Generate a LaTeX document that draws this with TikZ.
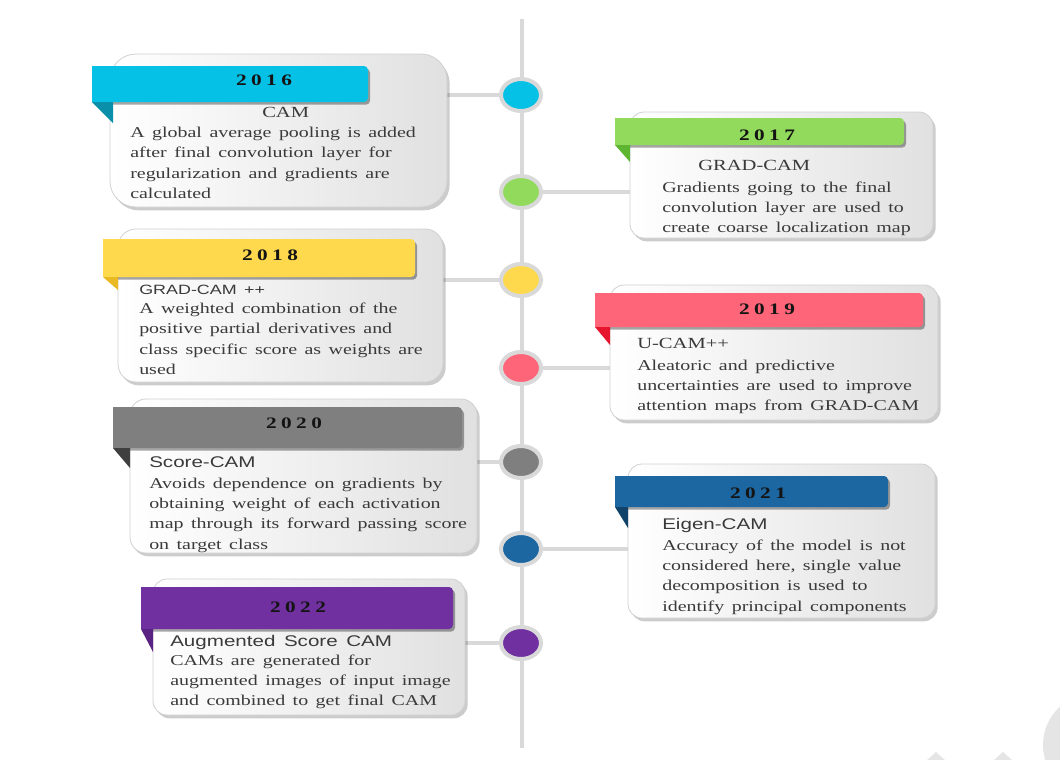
\documentclass[tikz,border=0pt]{standalone}
\usepackage{fontspec}
\setmainfont{Liberation Serif}[FakeStretch=1.33, WordSpace=1.5]
\newfontfamily\sanstitle{Liberation Sans}[FakeStretch=1.33, WordSpace=1.5]
\newfontfamily\yearfont{Liberation Serif}[FakeStretch=1.33, LetterSpace=28]
\usetikzlibrary{shadows,fit,shapes.geometric}
\pgfdeclarelayer{bg}
\pgfsetlayers{bg,main}
\definecolor{ringgray}{HTML}{D9D9D9}
\definecolor{txt}{HTML}{3A3A3A}
\definecolor{cA}{HTML}{05C1E6}\definecolor{fA}{HTML}{0A8FAA}
\definecolor{cB}{HTML}{92DA5C}\definecolor{fB}{HTML}{5DB531}
\definecolor{cC}{HTML}{FED94D}\definecolor{fC}{HTML}{E8B923}
\definecolor{cD}{HTML}{FF6578}\definecolor{fD}{HTML}{E5162E}
\definecolor{cE}{HTML}{7F7F7F}\definecolor{fE}{HTML}{3F3F3F}
\definecolor{cF}{HTML}{1C67A1}\definecolor{fF}{HTML}{10426A}
\definecolor{cG}{HTML}{7030A0}\definecolor{fG}{HTML}{5A2283}
\tikzset{
  card/.style={draw=black!18, line width=0.6pt, left color=white, right color=black!12,
    inner sep=0pt, drop shadow={shadow xshift=2pt, shadow yshift=-2.5pt, opacity=0.2, fill=black}},
  banner/.style={inner sep=0pt, rounded corners=3pt,
    drop shadow={shadow xshift=1.5pt, shadow yshift=-2pt, opacity=0.35, fill=black}},
  yeartxt/.style={font=\yearfont\bfseries\fontsize{12}{14}\selectfont, text=black!92, anchor=base, inner sep=0pt},
  serift/.style={font=\fontsize{11.6}{14}\selectfont, text=txt, anchor=base west, inner sep=0pt},
  sanst/.style={font=\sanstitle\fontsize{11.6}{14}\selectfont, text=txt, anchor=base west, inner sep=0pt},
  sanssmall/.style={font=\sanstitle\fontsize{10.1}{12}\selectfont, text=txt, anchor=base west, inner sep=0pt},
  bodytxt/.style={font=\fontsize{11.25}{15.3}\selectfont, text=txt, anchor=base west, inner sep=0pt},
  dot/.style={ellipse, draw=ringgray, line width=3pt, minimum width=30pt, minimum height=24pt, inner sep=0pt},
  conn/.style={draw=ringgray, line width=3.5pt}
}
\newcommand\lines[1]{\begin{tabular}[t]{@{}l@{}}#1\end{tabular}}
\begin{document}
\begin{tikzpicture}[x=0.75pt, y=-0.75pt]
\useasboundingbox (0,0) rectangle (1060,760);
\begin{pgfonlayer}{bg}
\fill[white] (0,0) rectangle (1060,760);
% watermark
\begin{scope}
\clip (0,0) rectangle (1060,760);
\fill[black!10] (1095,745) circle (52);
\fill[black!10] (926,761) -- (936,752) -- (946,761) -- cycle;
\fill[black!10] (993,761) -- (1003,752) -- (1013,761) -- cycle;
\end{scope}
\end{pgfonlayer}
\coordinate (ltop) at (522,19);
\coordinate (lbot) at (522,748);

% ---- 2016
\node[card, rounded corners=19.5pt, fit={(110,54) (447,207)}] (b16) {};
\node[banner, fill=cA, fit={(92,66) (368,102)}] (n16) {};
\fill[cA] (92,66) rectangle (100,102);
\fill[fA] (92,102) -- (113,102) -- (113,123) -- cycle;
\node[yeartxt] (y16) at (264,85) {2016};
\node[serift] (t16) at (262,117) {CAM};
\node[bodytxt] (x16) at (130,137.5) {\lines{A global average pooling is added\\after final convolution layer for\\regularization and gradients are\\calculated}};

% ---- 2017
\node[card, rounded corners=10.5pt, fit={(630,112) (933,238)}] (b17) {};
\node[banner, fill=cB, fit={(615,118) (904,145)}] (n17) {};
\fill[cB] (615,118) rectangle (623,145);
\fill[fB] (615,145) -- (630,145) -- (630,162) -- cycle;
\node[yeartxt] (y17) at (767,140) {2017};
\node[serift] (t17) at (698,170) {GRAD-CAM};
\node[bodytxt] (x17) at (662,192) {\lines{Gradients going to the final\\convolution layer are used to\\create coarse localization map}};

% ---- 2018
\node[card, rounded corners=13.5pt, fit={(118,229) (443,382)}] (b18) {};
\node[banner, fill=cC, fit={(103,239) (415,277)}] (n18) {};
\fill[cC] (103,239) rectangle (111,277);
\fill[fC] (103,277) -- (118,277) -- (118,290) -- cycle;
\node[yeartxt] (y18) at (270,260) {2018};
\node[sanssmall] (t18) at (139,294) {GRAD-CAM ++};
\node[bodytxt] (x18) at (139,313.5) {\lines{A weighted combination of the\\positive partial derivatives and\\class specific score as weights are\\used}};

% ---- 2019
\node[card, rounded corners=10.5pt, fit={(610,285) (938,420)}] (b19) {};
\node[banner, fill=cD, fit={(595,293) (923,327)}] (n19) {};
\fill[cD] (595,293) rectangle (603,327);
\fill[fD] (595,327) -- (610,327) -- (610,345) -- cycle;
\node[yeartxt] (y19) at (767,314) {2019};
\node[serift] (t19) at (637,348) {U-CAM++};
\node[bodytxt] (x19) at (637,370) {\lines{Aleatoric and predictive\\uncertainties are used to improve\\attention maps from GRAD-CAM}};

% ---- 2020
\node[card, rounded corners=12pt, fit={(130,399) (477,553)}] (b20) {};
\node[banner, fill=cE, fit={(113,407) (462,448)}] (n20) {};
\fill[cE] (113,407) rectangle (121,448);
\fill[fE] (113,448) -- (130,448) -- (130,468) -- cycle;
\node[yeartxt] (y20) at (294,428) {2020};
\node[sanst] (t20) at (149,467) {Score-CAM};
\node[bodytxt] (x20) at (149,488) {\lines{Avoids dependence on gradients by\\obtaining weight of each activation\\map through its forward passing score\\on target class}};

% ---- 2021
\node[card, rounded corners=10.5pt, fit={(628,464) (935,618)}] (b21) {};
\node[banner, fill=cF, fit={(615,476) (888,507)}] (n21) {};
\fill[cF] (615,476) rectangle (623,507);
\fill[fF] (615,507) -- (628,507) -- (628,528) -- cycle;
\node[yeartxt] (y21) at (758,498) {2021};
\node[sanst] (t21) at (662,529) {Eigen-CAM};
\node[bodytxt] (x21) at (662,550) {\lines{Accuracy of the model is not\\considered here, single value\\decomposition is used to\\identify principal components}};

% ---- 2022
\node[card, rounded corners=10.5pt, fit={(153,579) (465,715)}] (b22) {};
\node[banner, fill=cG, fit={(141,587) (453,629)}] (n22) {};
\fill[cG] (141,587) rectangle (149,629);
\fill[fG] (141,629) -- (153,629) -- (153,652) -- cycle;
\node[yeartxt] (y22) at (298,612) {2022};
\node[sanst] (t22) at (170,646) {Augmented Score CAM};
\node[bodytxt] (x22) at (170,665) {\lines{CAMs are generated for\\augmented images of input image\\and combined to get final CAM}};

% ---- timeline dots
\node[dot, fill=cA] (d16) at (521,95) {};
\node[dot, fill=cB] (d17) at (521,192) {};
\node[dot, fill=cC] (d18) at (521,280) {};
\node[dot, fill=cD] (d19) at (521,368) {};
\node[dot, fill=cE] (d20) at (521,462) {};
\node[dot, fill=cF] (d21) at (521,549) {};
\node[dot, fill=cG] (d22) at (521,643) {};

\begin{pgfonlayer}{bg}
\draw[conn] (ltop) -- (lbot);
\draw[conn] (d16 -| b16.east) -- (d16.center);
\draw[conn] (d17.center) -- (d17 -| b17.west);
\draw[conn] (d18 -| b18.east) -- (d18.center);
\draw[conn] (d19.center) -- (d19 -| b19.west);
\draw[conn] (d20 -| b20.east) -- (d20.center);
\draw[conn] (d21.center) -- (d21 -| b21.west);
\draw[conn] (d22 -| b22.east) -- (d22.center);
\end{pgfonlayer}
\end{tikzpicture}
\end{document}
